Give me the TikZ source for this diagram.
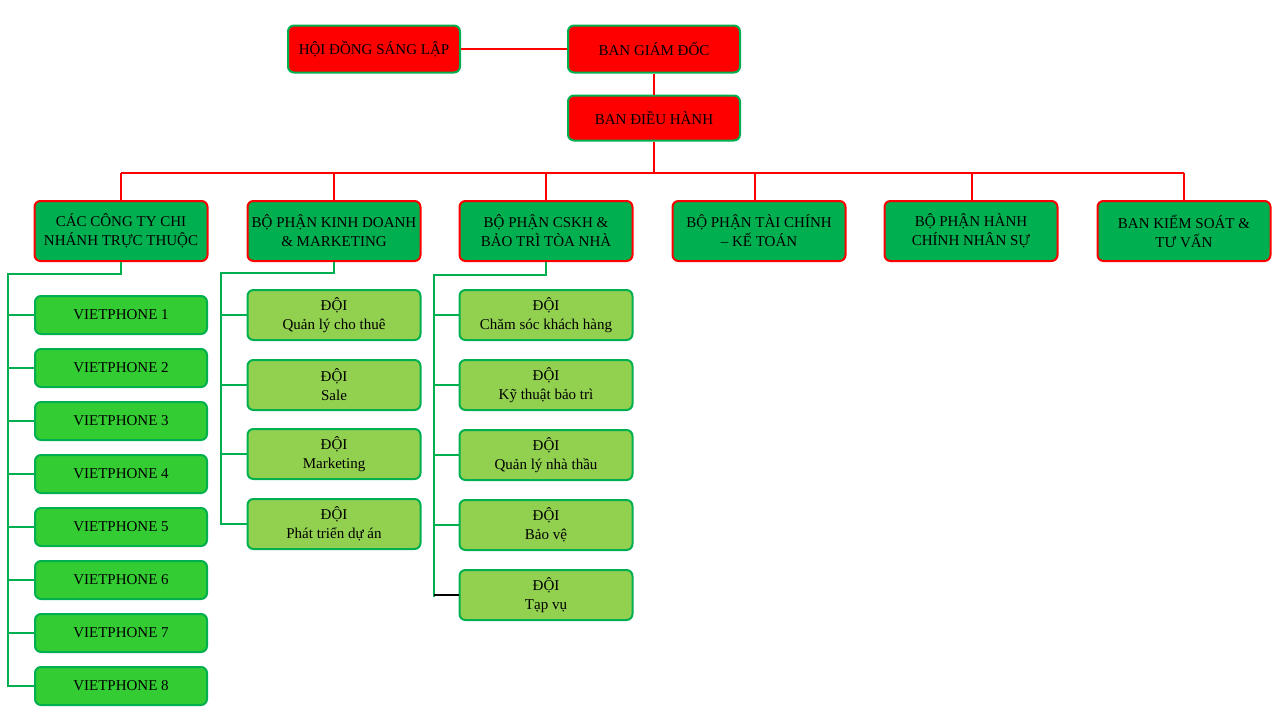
\documentclass[tikz,border=0pt]{standalone}
\usepackage{fontspec}
\setmainfont{Liberation Serif}
\definecolor{hred}{HTML}{FF0000}
\definecolor{dgreen}{HTML}{00B050}
\definecolor{vgreen}{HTML}{33CC33}
\definecolor{lgreen}{HTML}{92D050}
\begin{document}
\begin{tikzpicture}[x=1pt,y=-1pt,
  base/.style={rectangle,rounded corners=6pt,line width=2pt,align=center,font=\fontsize{15}{19}\selectfont,inner sep=0pt},
  top/.style={base,fill=hred,draw=dgreen,minimum width=172pt,minimum height=47pt},
  dept/.style={base,fill=dgreen,draw=hred,minimum width=173pt,minimum height=60pt},
  vp/.style={base,fill=vgreen,draw=dgreen,minimum width=172pt,minimum height=38pt},
  team/.style={base,fill=lgreen,draw=dgreen,minimum width=173pt,minimum height=50pt},
  rl/.style={hred,line width=2pt},
  gl/.style={dgreen,line width=2pt}]
\useasboundingbox (0,0) rectangle (1280,720);
% top
\node[top] (hd) at (374,49) {HỘI ĐỒNG SÁNG LẬP};
\node[top] (gd) at (654,49) {BAN GIÁM ĐỐC};
\node[top,minimum height=45pt] (dh) at (654,118) {BAN ĐIỀU HÀNH};
% departments
\node[dept] (d1) at (121,231) {CÁC CÔNG TY CHI\\NHÁNH TRỰC THUỘC};
\node[dept] (d2) at (334,231) {BỘ PHẬN KINH DOANH\\\& MARKETING};
\node[dept] (d3) at (546,231) {BỘ PHẬN CSKH \&\\BẢO TRÌ TÒA NHÀ};
\node[dept] (d4) at (759,231) {BỘ PHẬN TÀI CHÍNH\\– KẾ TOÁN};
\node[dept] (d5) at (971,231) {BỘ PHẬN HÀNH\\CHÍNH NHÂN SỰ};
\node[dept] (d6) at (1184,231) {BAN KIỂM SOÁT \&\\TƯ VẤN};
% red connectors
\draw[rl] (hd.east) -- (gd.west);
\draw[rl] (gd.south) -- (dh.north);
\coordinate (bus) at (654,173);
\draw[rl] (dh.south) -- (bus);
\draw[rl] (121,173) -- (1184,173);
\foreach \d/\x in {d1/121,d2/334,d3/546,d4/755,d5/972,d6/1184}
  \draw[rl] (\x,173) -- (\x,201);
% VIETPHONE
\foreach \i/\y in {1/315,2/368,3/421,4/474,5/527,6/580,7/633,8/686}
  \node[vp] (v\i) at (121,\y) {VIETPHONE \i};
\coordinate (c1a) at (121,274);
\coordinate (c1b) at (8,274);
\coordinate (c1c) at (8,686);
\draw[gl] (d1.south) -- (c1a) -- (c1b) -- (c1c) -- (v8.west);
\foreach \i/\y in {1/315,2/368,3/421,4/474,5/527,6/580,7/633}
  \draw[gl] (8,\y) -- (v\i.west);
% team column 2
\node[team] (t1) at (334,315) {ĐỘI\\Quản lý cho thuê};
\node[team] (t2) at (334,385) {ĐỘI\\Sale};
\node[team] (t3) at (334,454) {ĐỘI\\Marketing};
\node[team] (t4) at (334,524) {ĐỘI\\Phát triển dự án};
\coordinate (c2a) at (334,273);
\coordinate (c2b) at (221,273);
\coordinate (c2c) at (221,524);
\draw[gl] (d2.south) -- (c2a) -- (c2b) -- (c2c) -- (t4.west);
\foreach \i/\y in {1/315,2/385,3/454}
  \draw[gl] (221,\y) -- (t\i.west);
% team column 3
\node[team] (s1) at (546,315) {ĐỘI\\Chăm sóc khách hàng};
\node[team] (s2) at (546,385) {ĐỘI\\Kỹ thuật bảo trì};
\node[team] (s3) at (546,455) {ĐỘI\\Quản lý nhà thầu};
\node[team] (s4) at (546,525) {ĐỘI\\Bảo vệ};
\node[team] (s5) at (546,595) {ĐỘI\\Tạp vụ};
\coordinate (c3a) at (546,275);
\coordinate (c3b) at (434,275);
\coordinate (c3c) at (434,597);
\draw[gl] (d3.south) -- (c3a) -- (c3b) -- (c3c);
\foreach \i/\y in {1/315,2/385,3/455,4/525}
  \draw[gl] (434,\y) -- (s\i.west);
\draw[black,line width=2pt] (434,595) -- (s5.west);
\end{tikzpicture}
\end{document}
